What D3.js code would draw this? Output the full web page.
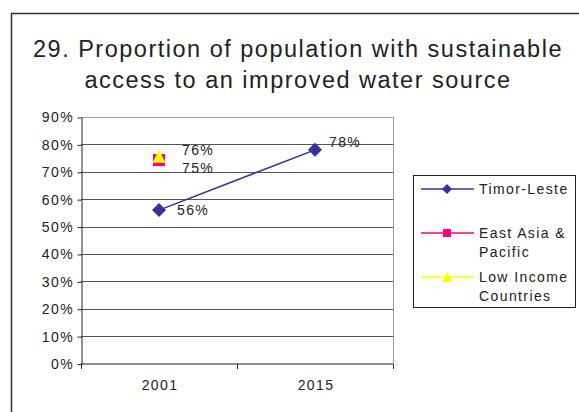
<!DOCTYPE html>
<html>
<head>
<meta charset="utf-8">
<script src="https://cdn.jsdelivr.net/npm/d3@7"></script>
<style>
  body { margin: 0; background: #fff; }
  svg { display: block; font-family: "Liberation Sans", Arial, sans-serif; }
  .lbl { font-size: 14px; letter-spacing: 1.4px; fill: #222; }
</style>
</head>
<body>
<div id="chart"></div>
<script>
// Data
var years = ["2001", "2015"]
var seriesNames = ["Timor-Leste", "East Asia & Pacific", "Low Income Countries"]
var timorLeste = [0.56, 0.78]
var eastAsiaPacific = [0.75, null]
var lowIncome = [0.76, null]
var yTicks = [0, 0.1, 0.2, 0.3, 0.4, 0.5, 0.6, 0.7, 0.8, 0.9]

var width = 579, height = 412
var margin = { top: 117, left: 81, right: 186, bottom: 48.5 }

var svg = d3.select("#chart").append("svg")
    .attr("width", width)
    .attr("height", height)

// outer frame
svg.append("rect")
    .attr("x", 11.5).attr("y", 13.5)
    .attr("width", 600).attr("height", 420)
    .attr("fill", "none").attr("stroke", "#333").attr("stroke-width", 1.5)

// title
var title = svg.append("text")
    .attr("text-anchor", "middle")
    .attr("font-size", 23.5)
    .attr("letter-spacing", "1.5px")
    .attr("fill", "#222")
title.append("tspan").attr("x", 298).attr("y", 57).text("29. Proportion of population with sustainable")
title.append("tspan").attr("x", 298).attr("y", 88).text("access to an improved water source")

var x = d3.scaleBand()
    .domain(years)
    .range([margin.left, width - margin.right])

var y = d3.scaleLinear()
    .domain([0, 0.9])
    .range([height - margin.bottom, margin.top])

// gridlines
svg.append("g")
    .selectAll("line")
    .data(yTicks.slice(1))
    .enter().append("line")
    .attr("x1", margin.left).attr("x2", width - margin.right)
    .attr("y1", d => Math.round(y(d)) + 0.5).attr("y2", d => Math.round(y(d)) + 0.5)
    .attr("stroke", d => d === 0.9 ? "#999" : "#555").attr("stroke-width", 1)

// right border of the plot area
svg.append("line")
    .attr("x1", width - margin.right + 0.5).attr("x2", width - margin.right + 0.5)
    .attr("y1", margin.top).attr("y2", height - margin.bottom)
    .attr("stroke", "#999")

// y axis
var yAxis = svg.append("g")
    .attr("transform", "translate(" + (margin.left + 0.5) + ",0.5)")
    .call(d3.axisLeft(y).tickValues(yTicks).tickFormat(d3.format(".0%")).tickSize(4).tickSizeOuter(0))
yAxis.select(".domain").attr("stroke", "#222")
yAxis.selectAll(".tick line").attr("stroke", "#222")
yAxis.selectAll("text")
    .attr("class", "lbl")
    .attr("x", -7.5)
    .attr("font-family", null).attr("font-size", null)

// x axis with ticks at band edges
var xAxis = svg.append("g")
    .attr("transform", "translate(0," + (height - margin.bottom + 0.5) + ")")
xAxis.append("line")
    .attr("x1", margin.left).attr("x2", width - margin.right)
    .attr("stroke", "#222")
var edges = years.map(d => x(d)).concat([x(years[years.length - 1]) + x.bandwidth()])
xAxis.selectAll(".edge")
    .data(edges)
    .enter().append("line")
    .attr("x1", d => Math.round(d) + 0.5).attr("x2", d => Math.round(d) + 0.5)
    .attr("y1", 0).attr("y2", 5)
    .attr("stroke", "#222")
xAxis.selectAll(".lab")
    .data(years)
    .enter().append("text")
    .attr("class", "lbl")
    .attr("x", d => x(d) + x.bandwidth() / 2 + 1)
    .attr("y", 26)
    .attr("text-anchor", "middle")
    .text(d => d)

var cx = d => x(d) + x.bandwidth() / 2
var colors = ["#333399", "#ff0080", "#ffff00"]

// marker shapes, w = width of the marker
function markerPath(kind, w) {
    var h = w / 2
    if (kind === "diamond") return "M0," + (-h) + "L" + h + ",0L0," + h + "L" + (-h) + ",0Z"
    if (kind === "square") return "M" + (-h) + "," + (-h) + "h" + w + "v" + w + "h" + (-w) + "Z"
    return "M0," + (-h) + "L" + h + "," + h + "L" + (-h) + "," + h + "Z"
}

// Timor-Leste line
var pts = years.map((d, i) => [cx(d), y(timorLeste[i])])
svg.append("path")
    .attr("d", d3.line()(pts))
    .attr("fill", "none").attr("stroke", colors[0]).attr("stroke-width", 1.5)

svg.selectAll(".tl")
    .data(pts)
    .enter().append("path")
    .attr("d", markerPath("diamond", 14))
    .attr("transform", d => "translate(" + d[0] + "," + d[1] + ")")
    .attr("fill", colors[0])

// East Asia & Pacific square
svg.append("path")
    .attr("d", markerPath("square", 12))
    .attr("transform", "translate(" + cx(years[0]) + "," + (y(eastAsiaPacific[0]) + 2) + ")")
    .attr("fill", colors[1])

// Low income triangle
svg.append("path")
    .attr("d", markerPath("triangle", 13))
    .attr("transform", "translate(" + cx(years[0]) + "," + (y(lowIncome[0]) + 1) + ")")
    .attr("fill", colors[2])

// data labels
var labels = [
    { x: cx(years[0]), y: y(timorLeste[0]), t: timorLeste[0], dx: 18, dy: 5 },
    { x: cx(years[1]), y: y(timorLeste[1]), t: timorLeste[1], dx: 14, dy: -3 },
    { x: cx(years[0]), y: y(lowIncome[0]), t: lowIncome[0], dx: 23, dy: 0 },
    { x: cx(years[0]), y: y(eastAsiaPacific[0]), t: eastAsiaPacific[0], dx: 23, dy: 14.5 }
]
svg.selectAll(".dl")
    .data(labels)
    .enter().append("text")
    .attr("class", "lbl")
    .attr("x", d => d.x + d.dx)
    .attr("y", d => d.y + d.dy)
    .text(d => d3.format(".0%")(d.t))

// legend
var legend = svg.append("g")
legend.append("rect")
    .attr("x", 413.5).attr("y", 175.5)
    .attr("width", 162).attr("height", 132)
    .attr("fill", "#fff").attr("stroke", "#222")

var legendRows = [
    { lines: ["Timor-Leste"], y: 189, kind: "diamond", w: 10 },
    { lines: ["East Asia &", "Pacific"], y: 233, kind: "square", w: 8 },
    { lines: ["Low Income", "Countries"], y: 277, kind: "triangle", w: 10 }
]
legendRows.forEach(function (r, i) {
    legend.append("line")
        .attr("x1", 421).attr("x2", 474)
        .attr("y1", r.y).attr("y2", r.y)
        .attr("stroke", colors[i]).attr("stroke-width", 1.5)
    legend.append("path")
        .attr("d", markerPath(r.kind, r.w))
        .attr("transform", "translate(447," + r.y + ")")
        .attr("fill", colors[i])
    var t = legend.append("text")
        .attr("class", "lbl")
    r.lines.forEach(function (l, j) {
        t.append("tspan").attr("x", 479).attr("y", r.y + 5 + j * 19).text(l)
    })
})
</script>
</body>
</html>
